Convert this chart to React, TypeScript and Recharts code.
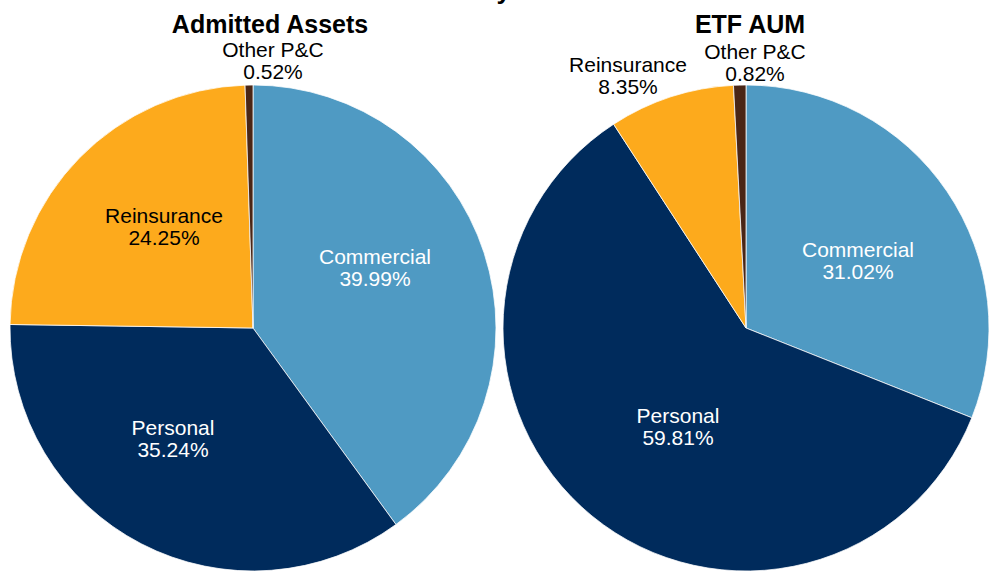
import React from "react";
import { PieChart, Pie, Cell, Customized } from "recharts";

const categories = ["Commercial", "Personal", "Reinsurance", "Other P&C"];
const admittedAssets = [39.99, 35.24, 24.25, 0.52];
const etfAum = [31.02, 59.81, 8.35, 0.82];
const chartTitles = ["Admitted Assets", "ETF AUM"];

const COLORS = ["#4F9AC3", "#002B5C", "#FDAA1C", "#4A2616"];
const LABEL_COLORS = ["#FFFFFF", "#FFFFFF", "#000000", "#000000"];

const leftData = categories.map((name, i) => ({ name, value: admittedAssets[i] }));
const rightData = categories.map((name, i) => ({ name, value: etfAum[i] }));

const FONT = "'Liberation Sans', Arial, sans-serif";

// label block-center offsets relative to the pie center
const LEFT_OFFSETS = [
  [122, -61],
  [-80, 110],
  [-89, -102],
  [20, -268],
];
const RIGHT_OFFSETS = [
  [112, -68],
  [-68, 98],
  [-118, -253],
  [9, -266],
];

const makeLabel = (offsets: number[][]) => (props: any) => {
  const { cx, cy, index, name, value } = props;
  const [dx, dy] = offsets[index];
  const x = Number(cx) + dx;
  const y = Number(cy) + dy;
  return (
    <text
      key={`lbl-${index}`}
      x={x}
      y={y}
      textAnchor="middle"
      fill={LABEL_COLORS[index]}
      fontFamily={FONT}
      fontSize={21}
    >
      <tspan x={x} y={y - 3.5}>
        {name}
      </tspan>
      <tspan x={x} y={y + 18.5}>
        {Number(value).toFixed(2)}%
      </tspan>
    </text>
  );
};

const Titles = () => (
  <g fontFamily={FONT} fontWeight="bold" fill="#000">
    <text x={511} y={-1} textAnchor="end" fontSize={26}>
      Sub-Industry
    </text>
    <text x={270} y={33} textAnchor="middle" fontSize={25}>
      {chartTitles[0]}
    </text>
    <text x={750} y={33} textAnchor="middle" fontSize={25}>
      {chartTitles[1]}
    </text>
  </g>
);

export default function App() {
  return (
    <div style={{ position: "absolute", left: 0, top: 0 }}>
      <PieChart width={990} height={571} margin={{ top: 0, right: 0, bottom: 0, left: 0 }}>
        <Pie
          data={leftData}
          dataKey="value"
          nameKey="name"
          cx={253}
          cy={328}
          outerRadius={243}
          startAngle={90}
          endAngle={-270}
          stroke="#ffffff"
          strokeWidth={0.75}
          labelLine={false}
          label={makeLabel(LEFT_OFFSETS)}
          isAnimationActive={false}
        >
          {leftData.map((_, i) => (
            <Cell key={i} fill={COLORS[i]} />
          ))}
        </Pie>
        <Pie
          data={rightData}
          dataKey="value"
          nameKey="name"
          cx={746}
          cy={328}
          outerRadius={243}
          startAngle={90}
          endAngle={-270}
          stroke="#ffffff"
          strokeWidth={0.75}
          labelLine={false}
          label={makeLabel(RIGHT_OFFSETS)}
          isAnimationActive={false}
        >
          {rightData.map((_, i) => (
            <Cell key={i} fill={COLORS[i]} />
          ))}
        </Pie>
        <Customized component={Titles} />
      </PieChart>
    </div>
  );
}
